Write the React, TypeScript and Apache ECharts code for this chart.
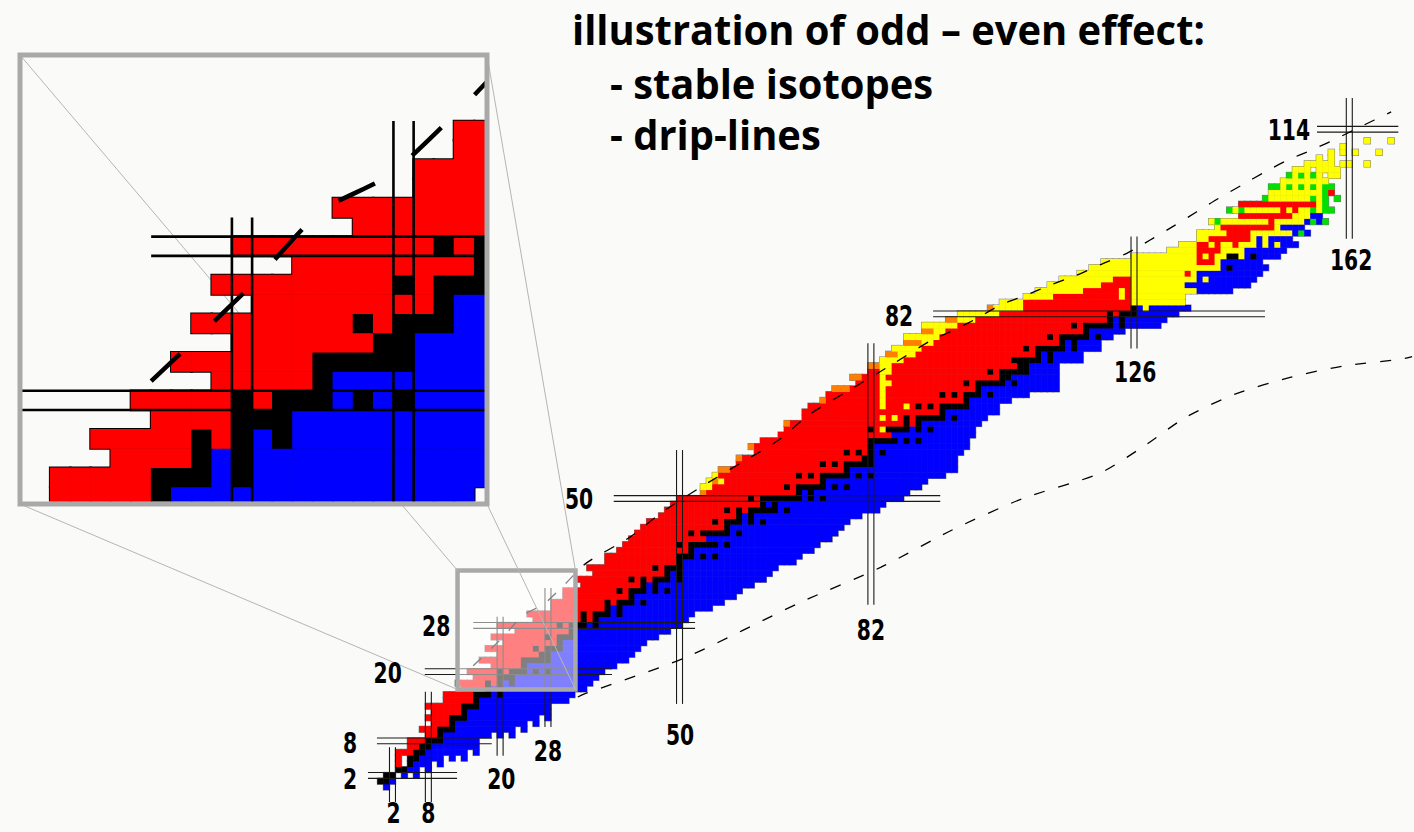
import React, { useEffect, useRef } from 'react';
import * as echarts from 'echarts';

type Row = [number, number, string];

// decay modes: stable, beta+/EC, beta-, alpha, proton emission, spontaneous fission
const DECAY_CODES = ['k', 'r', 'b', 'y', 'o', 'g'];
const DECAY_COLORS = ['#000000', '#ff0000', '#0000ff', '#ffff00', '#ff8000', '#00e000'];

// each row: [Z, first N, run-length pattern of decay codes along N ("." = not known)]
const lightRows: Row[] = [
  [0, 1, 'b'],
  [1, 0, 'k2 b'],
  [2, 1, 'k2 . b . b'],
  [3, 3, 'k2 b2 . b'],
  [4, 3, 'r . k b3 . b'],
  [5, 3, 'r . k2 b4 . b . b'],
  [6, 3, 'r3 k2 b7 . b'],
  [7, 5, 'r2 k2 b8'],
  [8, 5, 'r3 k3 b6'],
  [9, 8, 'r2 k b8 . b . b'],
  [10, 7, 'r3 k3 b10 . b'],
  [11, 9, 'r3 k b12 . b'],
  [12, 8, 'r4 k3 b12 . b'],
  [13, 9, 'r5 k b14'],
  [14, 8, 'r6 k3 b12'],
  [15, 11, 'r5 k b15'],
  [16, 11, 'r5 k3 b k b12'],
  [17, 14, 'r4 k b k b14'],
  [18, 13, 'r5 k r k b k b13'],
  [19, 16, 'r4 k3 b14'],
  [20, 15, 'r5 k r k3 b k b k b9'],
];

const mediumRows: Row[] = [
  [21, 19, 'r5 k b15'],
  [22, 17, 'r7 k5 b13'],
  [23, 20, 'r7 k2 b14'],
  [24, 18, 'r8 k r k3 b13'],
  [25, 21, 'r9 k b14'],
  [26, 19, 'r9 k r k3 b14'],
  [27, 23, 'r9 k b16'],
  [28, 20, 'r10 k r k3 b k b14'],
  [29, 26, 'r8 k r k b15'],
  [30, 25, 'r9 k r k3 b k b12'],
  [31, 29, 'r9 k b k b15'],
  [32, 29, 'r9 k r k3 b k b13'],
  [33, 31, 'r11 k b17'],
  [34, 31, 'r9 k r k3 b k b k b12'],
  [35, 34, 'r10 k b k b16'],
  [36, 33, 'r9 k r k r k3 b k b14'],
  [37, 36, 'r12 k b k b15'],
  [38, 35, 'r11 k r k3 b16'],
  [39, 38, 'r12 k b19'],
  [40, 38, 'r12 k3 b k b k b14'],
  [41, 40, 'r12 k b20'],
  [42, 41, 'r9 k r k5 b k b15'],
  [43, 42, 'r13 b21'],
  [44, 43, 'r9 k r k5 b k b16'],
  [45, 44, 'r14 k b19'],
  [46, 45, 'r11 k r k3 b k b k b14'],
  [47, 47, 'r13 k b k b18'],
  [48, 48, 'r10 k r k r k5 b k b15'],
  [49, 49, 'r15 k b k b18'],
  [50, 50, 'r12 k r k7 b k b k b13'],
];

const heavyRows: Row[] = [
  [51, 54, 'o r15 k b k b16'],
  [52, 54, 'y2 r12 k r k5 b k b k b12'],
  [53, 55, 'y o y r16 k b17'],
  [54, 56, 'y r13 k r k r k5 b k b k b12'],
  [55, 57, 'o2 r19 k b18'],
  [56, 60, 'r14 k r k r k5 b14'],
  [57, 60, 'o r20 k2 b14'],
  [58, 63, 'r15 k r k r k b k b13'],
  [59, 62, 'o r19 k b16'],
  [60, 64, 'r18 k5 b k b k b8'],
  [61, 67, 'r19 b14'],
  [62, 68, 'r14 k r y k4 b k b k b7'],
  [63, 68, 'o r19 k r k b10'],
  [64, 71, 'r13 y r y r k r k5 b k b5'],
  [65, 71, 'r23 k b9'],
  [66, 72, 'r12 y r3 y r k r k r k5 b5'],
  [67, 74, 'o r9 y r13 k b7'],
  [68, 75, 'r9 y r9 k r k r k3 b k b6'],
  [69, 76, 'o3 r5 y r15 k b13'],
  [70, 80, 'r4 y2 r12 k r k5 b k b7'],
  [71, 79, 'o2 r3 y r19 k2 b8'],
  [72, 82, 'r2 y2 r16 k r k5 b5'],
  [73, 82, 'o2 y2 r21 k2 b5'],
  [74, 84, 'y4 r18 k5 b k b5'],
  [75, 85, 'o2 y3 r20 k b k b5'],
  [76, 86, 'y5 r17 k r k5 b k b4'],
  [77, 88, 'o3 y2 r21 k b k b4'],
  [78, 88, 'y6 r18 k r k5 b k b2'],
  [79, 91, 'o2 y2 r23 k b6'],
  [80, 91, 'y6 r19 k r k5 b k b6'],
  [81, 95, 'o2 y3 r22 k b k b7'],
  [82, 97, 'y7 r18 k r k3 b7'],
];

const actinideRows: Row[] = [
  [83, 102, 'o y5 r18 k b y b7'],
  [84, 104, 'y4 r18 y9'],
  [85, 108, 'y5 r11 y r y9'],
  [86, 110, 'y8 r6 y r y11 b6'],
  [87, 112, 'y9 r5 y9 b11'],
  [88, 114, 'y9 r3 y11 b y b8'],
  [89, 117, 'y18 r y b11'],
  [90, 119, 'y22 b k b6'],
  [91, 121, 'y16 r3 y b7'],
  [92, 126, 'y11 r y r y2 k2 y b k b4'],
  [93, 132, 'y5 r4 y4 b7'],
  [94, 134, 'y3 r2 y r y2 r y3 b y b y b3'],
  [95, 137, 'y2 r7 y b y b4'],
  [96, 137, 'y5 r4 y7 b g b'],
  [97, 140, 'y r9 y b4'],
  [98, 139, 'y g y8 r y5 b g b g'],
  [99, 144, 'r9 y3 b2'],
  [100, 142, 'g y g y6 r y r y2 g y g2'],
];

const superheavyRows: Row[] = [
  [101, 144, 'r13 y g'],
  [102, 148, 'g y7 g y g . g'],
  [103, 149, 'y9 g r'],
  [104, 149, 'g2 y g y g y g y g2'],
  [105, 151, 'y8'],
  [106, 152, 'g y g y g y . y2'],
  [107, 153, 'y3 . y4'],
  [108, 155, 'y5 . y2 . . y'],
  [109, 157, 'y . y'],
  [110, 159, 'y . y . y . . . y'],
  [111, 161, 'y'],
  [112, 165, 'y . . . y'],
];

// magic numbers: [N, Z from, Z to] and [Z, N from, N to]
const magicNeutronLines: [number, number, number][] = [
  [2, -2.6, 6.9], [8, -2.6, 16.5], [20, 5.4, 29.5], [28, 10.4, 34.5],
  [50, 14.4, 58.4], [82, 31.6, 76.9], [126, 76.0, 95.4], [162, 95.0, 119.4],
];
const magicProtonLines: [number, number, number][] = [
  [2, -2.1, 12.8], [8, -0.6, 18.6], [20, 7.4, 38.7], [28, 15.5, 52.6],
  [50, 39.0, 93.6], [82, 92.4, 147.9], [114, 156.6, 170.2],
];

// drip lines as [N, Z]
const protonDripLine: [number, number][] = [
  [15.5, 21.0], [20.4, 25.9], [23.9, 29.8], [27.3, 31.7], [30.7, 35.0], [34.4, 38.8],
  [41.7, 43.3], [47.2, 47.7], [53.6, 52.0], [60.0, 56.0], [66.4, 60.0], [71.8, 64.6],
  [79.1, 69.2], [85.5, 73.2], [91.9, 77.3], [95.9, 79.2], [99.7, 81.2], [103.6, 83.5],
  [108.1, 85.3], [112.0, 87.0], [116.4, 88.7], [120.3, 90.5], [124.8, 92.5], [128.7, 94.8],
  [132.6, 97.2], [136.5, 99.7], [140.1, 102.0], [144.0, 104.3], [147.9, 106.6],
  [151.8, 108.7], [155.7, 110.4], [159.9, 112.4], [163.8, 114.4], [169.0, 117.0],
];
const neutronDripLine: [number, number][] = [
  [33.0, 15.6], [34.0, 16.1], [50.9, 22.4], [70.0, 31.9], [83.7, 38.1], [95.5, 44.5],
  [107.4, 50.0], [120.1, 54.3], [127.4, 58.9], [134.7, 64.1], [142.9, 68.1],
  [152.1, 71.0], [161.2, 73.0], [170.3, 74.1], [172.5, 74.6],
];

const magicLabels: [string, number, number][] = [
  ['2', 2.2, -4.6], ['8', 8.0, -4.6], ['20', 20.2, 1.4], ['28', 28.0, 6.2],
  ['50', 50.1, 9.0], ['82', 82.0, 27.1], ['126', 126.2, 71.9], ['162', 162.3, 91.3],
  ['2', -5.1, 1.4], ['8', -5.1, 7.6], ['20', 1.2, 19.8], ['28', 9.3, 27.9],
  ['50', 33.2, 49.9], ['82', 86.7, 81.6], ['114', 151.9, 113.9],
];

const titleLines = ['illustration of odd – even effect:', '- stable isotopes', '- drip-lines'];

// region of the chart that is shown magnified
const zoomWindowN = [12.88, 32.6];
const zoomWindowZ = [16.9, 37.52];

function expandRows(rows: Row[]): number[][] {
  const out: number[][] = [];
  rows.forEach(([z, n0, pattern]) => {
    let n = n0;
    pattern.trim().split(/\s+/).forEach((tok) => {
      const idx = DECAY_CODES.indexOf(tok[0]);
      const count = tok.length > 1 ? parseInt(tok.slice(1), 10) : 1;
      for (let i = 0; i < count; i++) {
        if (idx >= 0) out.push([n, z, idx]);
        n++;
      }
    });
  });
  return out;
}

const cellRenderer = (pad: number, outline: string | null) => (_p: any, api: any) => {
  const n = api.value(0);
  const z = api.value(1);
  const m = api.value(2);
  const c = api.coord([n, z]);
  const s = api.size([1, 1], [n, z]);
  return {
    type: 'rect',
    shape: { x: c[0] - s[0] / 2 - pad, y: c[1] - s[1] / 2 - pad, width: s[0] + 2 * pad, height: s[1] + 2 * pad },
    style: { fill: outline ?? DECAY_COLORS[m] },
  };
};

const magicRenderer = (width: number, color: string) => (_p: any, api: any) => {
  const dir = api.value(0);
  const v = api.value(1);
  const a = api.value(2);
  const b = api.value(3);
  const children = [-0.5, 0.5].map((off) => {
    const p1 = dir === 0 ? api.coord([v + off, a]) : api.coord([a, v + off]);
    const p2 = dir === 0 ? api.coord([v + off, b]) : api.coord([b, v + off]);
    return {
      type: 'line',
      shape: { x1: p1[0], y1: p1[1], x2: p2[0], y2: p2[1] },
      style: { stroke: color, lineWidth: width },
    };
  });
  return { type: 'group', children };
};

const INSET = { left: 22.5, top: 57.5, width: 462, height: 444 };
const INSET_N = [9.128, 32.01];
const INSET_Z = [14.75, 37.8];

export default function App() {
  const ref = useRef<HTMLDivElement>(null);

  useEffect(() => {
    if (!ref.current) return;
    const chart = echarts.init(ref.current, undefined, { renderer: 'svg' });

    const cells = expandRows([...lightRows, ...mediumRows, ...heavyRows, ...actinideRows, ...superheavyRows]);
    const insetCells = cells.filter(
      ([n, z]) => n >= INSET_N[0] - 1 && n <= INSET_N[1] + 1 && z >= INSET_Z[0] - 1 && z <= INSET_Z[1] + 1,
    );
    const magicData = [
      ...magicNeutronLines.map(([n, a, b]) => [0, n, a, b]),
      ...magicProtonLines.map(([z, a, b]) => [1, z, a, b]),
    ];

    const dripSeries = (grid: number, width: number, dash: number[], z: number) =>
      [protonDripLine, neutronDripLine].map((pts) => ({
        type: 'line',
        xAxisIndex: grid,
        yAxisIndex: grid,
        data: pts,
        showSymbol: false,
        smooth: 0.25,
        silent: true,
        clip: true,
        z,
        lineStyle: { color: '#000', width, type: dash },
      }));

    chart.setOption({
      animation: false,
      grid: [
        { left: 0, top: 0, width: 1414, height: 832 },
        { left: INSET.left, top: INSET.top, width: INSET.width, height: INSET.height },
      ],
      xAxis: [
        { gridIndex: 0, type: 'value', min: -63.63, max: 172.82, show: false },
        { gridIndex: 1, type: 'value', min: INSET_N[0], max: INSET_N[1], show: false },
      ],
      yAxis: [
        { gridIndex: 0, type: 'value', min: -7.8, max: 136.4, show: false },
        { gridIndex: 1, type: 'value', min: INSET_Z[0], max: INSET_Z[1], show: false },
      ],
      series: [
        { type: 'custom', xAxisIndex: 0, yAxisIndex: 0, z: 1, silent: true, data: cells, encode: { x: 0, y: 1 }, renderItem: cellRenderer(0.7, '#7a7a7a') },
        { type: 'custom', xAxisIndex: 0, yAxisIndex: 0, z: 2, silent: true, data: cells, encode: { x: 0, y: 1 }, renderItem: cellRenderer(0.2, null) },
        { type: 'custom', xAxisIndex: 0, yAxisIndex: 0, z: 3, silent: true, data: magicData, renderItem: magicRenderer(1.1, '#1a1a1a') },
        ...dripSeries(0, 1.3, [11, 14], 3),
        { type: 'custom', xAxisIndex: 1, yAxisIndex: 1, z: 6, silent: true, clip: true, data: insetCells, encode: { x: 0, y: 1 }, renderItem: cellRenderer(1.3, '#000000') },
        { type: 'custom', xAxisIndex: 1, yAxisIndex: 1, z: 7, silent: true, clip: true, data: insetCells, encode: { x: 0, y: 1 }, renderItem: cellRenderer(0.3, null) },
        { type: 'custom', xAxisIndex: 1, yAxisIndex: 1, z: 8, silent: true, clip: true, data: magicData, renderItem: magicRenderer(2.6, '#000000') },
        ...dripSeries(1, 4.5, [40, 47], 8),
      ],
    });

    // framed window on the main chart and its magnified copy
    const tl = chart.convertToPixel({ gridIndex: 0 }, [zoomWindowN[0], zoomWindowZ[1]]) as number[];
    const br = chart.convertToPixel({ gridIndex: 0 }, [zoomWindowN[1], zoomWindowZ[0]]) as number[];
    const insetL = INSET.left - 2.5;
    const insetT = INSET.top - 2.5;
    const insetR = INSET.left + INSET.width + 2.5;
    const insetB = INSET.top + INSET.height + 2.5;

    const connectors = [
      [insetL, insetT, tl[0], tl[1]],
      [insetR, insetT, br[0], tl[1]],
      [insetL, insetB, tl[0], br[1]],
      [insetR, insetB, br[0], br[1]],
    ].map(([x1, y1, x2, y2]) => ({
      type: 'line',
      z: 5,
      silent: true,
      shape: { x1, y1, x2, y2 },
      style: { stroke: '#b5b5b5', lineWidth: 1 },
    }));

    const ctx = document.createElement('canvas').getContext('2d')!;
    const titleFont = 'bold 42px "Open Sans"';
    ctx.font = titleFont;
    const titleScale = 633 / ctx.measureText(titleLines[0]).width;
    const titleSpots: [number, number][] = [[572, 28.7], [610, 82.7], [610, 133.7]];

    const labelFont = 'bold 29px "DejaVu Sans"';
    const labels = magicLabels.map(([text, n, z]) => {
      const p = chart.convertToPixel({ gridIndex: 0 }, [n, z]) as number[];
      return {
        type: 'text',
        z: 10,
        silent: true,
        x: p[0],
        y: p[1],
        scaleX: 0.7,
        style: { text, font: labelFont, lineHeight: 24, fill: '#000', align: 'center', verticalAlign: 'middle' },
      };
    });

    chart.setOption({
      graphic: [
        {
          type: 'rect', z: 4, silent: true,
          shape: { x: tl[0], y: tl[1], width: br[0] - tl[0], height: br[1] - tl[1] },
          style: { fill: 'rgba(255,255,255,0.5)' },
        },
        {
          type: 'rect', z: 5, silent: true,
          shape: { x: tl[0], y: tl[1], width: br[0] - tl[0], height: br[1] - tl[1] },
          style: { fill: 'none', stroke: '#a9a9a9', lineWidth: 4.5 },
        },
        ...connectors,
        {
          type: 'rect', z: 9, silent: true,
          shape: { x: insetL, y: insetT, width: insetR - insetL, height: insetB - insetT },
          style: { fill: 'none', stroke: '#a9a9a9', lineWidth: 5 },
        },
        ...labels,
        ...titleLines.map((text, i) => ({
          type: 'text',
          z: 10,
          silent: true,
          x: titleSpots[i][0],
          y: titleSpots[i][1],
          scaleX: titleScale,
          style: { text, font: titleFont, fill: '#000', align: 'left', verticalAlign: 'middle' },
        })),
      ],
    });

    return () => chart.dispose();
  }, []);

  return (
    <div
      ref={ref}
      style={{ position: 'fixed', left: 0, top: 0, width: 1414, height: 832, background: '#fafaf8' }}
    />
  );
}
